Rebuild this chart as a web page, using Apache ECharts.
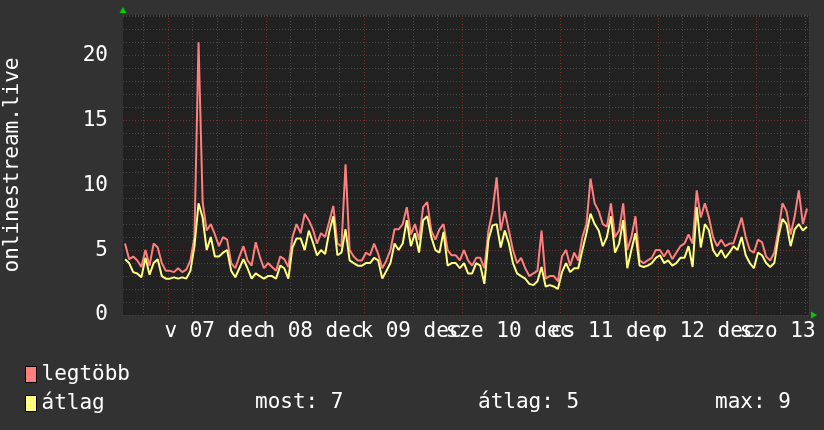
<!DOCTYPE html>
<html>
<head>
<meta charset="utf-8">
<script src="https://cdn.jsdelivr.net/npm/echarts@6/dist/echarts.min.js"></script>
<style>
  html, body { margin: 0; padding: 0; background: #323232; }
  #chart { width: 824px; height: 430px; }
</style>
</head>
<body>
<div id="chart"></div>
<script>
// 7 days of hourly data, first hour = 12-06 13:00
const startHour = 13
const dayLabels = ['v 07 dec', 'h 08 dec', 'k 09 dec', 'sze 10 dec', 'cs 11 dec', 'p 12 dec', 'szo 13 dec']
const yTicks = [0, 5, 10, 15, 20]

// legtöbb (max)
const maxVals = [
  5.5, 4.3, 4.5, 4.2, 3.7, 5.0, 3.8, 5.5, 5.2, 4.0, 3.4, 3.4,
  3.3, 3.6, 3.3, 3.5, 4.2, 6.0, 21.0, 8.7, 6.5, 7.0, 6.2, 5.3,
  6.0, 5.8, 4.0, 3.6, 4.5, 5.3, 4.2, 3.8, 5.6, 4.5, 3.6, 4.0,
  3.7, 3.4, 4.5, 4.3, 3.7, 6.0, 7.0, 6.3, 7.8, 7.3, 6.6, 5.5,
  6.3, 6.0, 7.2, 8.4, 5.5, 5.3, 11.6, 5.0, 4.5, 4.2, 4.2, 4.8,
  4.6, 5.5, 4.7, 3.6, 4.2, 5.0, 6.6, 6.6, 7.0, 8.3, 6.2, 7.0,
  5.8, 8.3, 8.7, 6.5, 5.8, 6.6, 7.0, 5.0, 4.6, 4.6, 4.2, 5.0,
  4.2, 3.8, 4.4, 4.4, 3.6, 6.5, 8.0, 10.6, 6.5, 8.0, 6.5, 5.0,
  4.0, 4.4, 3.6, 3.0, 3.2, 3.4, 6.5, 2.8, 3.0, 3.0, 2.6, 4.5,
  5.0, 3.8, 4.8, 4.2, 6.0, 7.0, 10.5, 8.6, 8.0, 7.0, 6.8, 8.6,
  6.0, 6.5, 8.6, 5.0, 6.0, 7.6, 4.2, 4.0, 4.2, 4.4, 5.0, 5.0,
  4.5, 5.0, 4.3, 4.8, 5.3, 5.5, 6.2, 5.5, 9.6, 7.5, 8.6, 7.5,
  6.0, 5.3, 5.8, 5.3, 5.5, 5.5, 6.5, 7.5, 6.0, 5.0, 4.8, 5.8,
  5.6, 4.5, 4.2, 4.8, 6.5, 8.6, 8.0, 6.2, 7.6, 9.6, 7.0, 8.2
]
// átlag (average)
const avgVals = [
  4.3, 4.0, 3.3, 3.2, 2.9, 4.4, 3.1, 4.0, 4.3, 3.0, 2.8, 2.8,
  2.9, 2.8, 2.9, 2.8, 3.4, 5.3, 8.6, 7.5, 5.0, 6.0, 4.5, 4.5,
  4.8, 5.0, 3.4, 2.9, 3.6, 4.3, 3.6, 2.8, 3.2, 3.0, 2.8, 3.0,
  3.0, 2.8, 3.8, 3.6, 2.8, 5.2, 5.9, 5.9, 5.0, 6.5, 5.6, 4.6,
  5.0, 4.7, 6.4, 7.6, 4.6, 4.8, 6.6, 4.2, 4.0, 3.8, 3.8, 4.0,
  4.0, 4.4, 4.2, 2.8, 3.4, 4.0, 5.5, 5.0, 5.5, 7.3, 5.3, 6.3,
  4.8, 7.3, 7.6, 6.0, 5.0, 4.8, 6.4, 3.8, 4.0, 4.0, 3.6, 4.0,
  3.2, 3.2, 4.0, 3.8, 2.4, 5.8, 6.9, 7.0, 5.2, 6.5, 5.5, 4.0,
  3.2, 3.0, 2.8, 2.4, 2.3, 2.6, 3.7, 2.2, 2.3, 2.2, 2.0, 3.3,
  4.0, 3.3, 3.6, 3.6, 5.0, 6.3, 7.8, 7.0, 6.5, 5.3, 6.0, 7.6,
  4.8, 5.5, 7.3, 3.6, 5.0, 6.3, 3.8, 3.7, 3.8, 4.0, 4.4, 4.6,
  4.0, 4.2, 3.8, 4.0, 4.4, 4.4, 5.3, 3.7, 8.3, 5.2, 7.0, 6.5,
  5.0, 4.5, 5.0, 4.4, 4.8, 5.3, 5.0, 6.0, 4.6, 4.0, 3.6, 4.8,
  4.6, 4.0, 3.7, 4.0, 6.0, 7.4, 7.0, 5.3, 6.6, 7.0, 6.5, 6.8
]
const stats = [['most', 7], ['átlag', 5], ['max', 9]]

// category per hour
const hours = maxVals.map((v, i) => {
  const h = startHour + i
  return `${6 + Math.floor(h / 24)}. ${String(h % 24).padStart(2, '0')}:00`
})
const hourOf = i => (startHour + i) % 24
const dayOf = i => Math.floor((startHour + i) / 24) - 1

const font = 'DejaVu Sans Mono'
const chart = echarts.init(document.getElementById('chart'))

const baseX = {
  type: 'category',
  data: hours,
  boundaryGap: true,
  position: 'bottom',
  axisLine: { show: false },
  axisTick: { show: false },
  axisLabel: { show: false },
  splitLine: { show: false }
}

// napfelirat: a páros és páratlan napok külön tengelyen, hogy átfedhessenek
const dayLabelAxis = parity => ({
  ...baseX,
  axisLabel: {
    show: true,
    interval: (idx) => hourOf(idx) === 12 && dayOf(idx) % 2 === parity,
    formatter: (v, idx) => dayLabels[dayOf(idx)],
    color: '#fff',
    fontFamily: font,
    fontSize: 21,
    margin: 6,
    padding: [0, 8, 0, 0],
    hideOverlap: false
  }
})

const option = {
  backgroundColor: '#323232',
  animation: false,
  grid: {
    left: 123, right: 15, top: 15, bottom: 115,
    containLabel: false,
    outerBoundsMode: 'none',
    show: true, backgroundColor: '#212121', borderWidth: 0
  },
  legend: {
    orient: 'vertical',
    left: 20,
    top: 359,
    icon: 'rect',
    itemWidth: 11,
    itemHeight: 16,
    itemGap: 8,
    selectedMode: false,
    itemStyle: { borderColor: '#000', borderWidth: 1 },
    textStyle: { color: '#fff', fontFamily: font, fontSize: 21, lineHeight: 16 },
    data: ['legtöbb', 'átlag']
  },
  xAxis: [
    {
      // 6 órás rács
      ...baseX,
      axisLine: {
        show: true,
        symbol: ['none', 'triangle'],
        symbolSize: [7, 6],
        symbolOffset: [0, 5],
        lineStyle: { color: '#00cc00', width: 0 }
      },
      splitLine: {
        show: true,
        interval: (idx) => hourOf(idx) % 6 === 0,
        lineStyle: { color: '#4a4a4a', type: [1, 2], width: 1 }
      }
    },
    {
      // napok határa
      ...baseX,
      splitLine: {
        show: true,
        interval: (idx) => hourOf(idx) === 0,
        lineStyle: { color: '#7a2e2e', type: [1, 2], width: 1 }
      }
    },
    dayLabelAxis(0),
    dayLabelAxis(1)
  ],
  yAxis: [
    {
      type: 'value',
      position: 'left',
      min: 0,
      max: 23.1,
      interval: 1,
      z: 0,
      axisLine: {
        show: true,
        symbol: ['none', 'triangle'],
        symbolSize: [7, 6],
        symbolOffset: [0, 5],
        lineStyle: { color: '#00cc00', width: 0 }
      },
      axisTick: { show: false },
      axisLabel: { show: false },
      splitLine: { lineStyle: { color: '#4a4a4a', type: [1, 2], width: 1 } }
    },
    {
      type: 'value',
      position: 'left',
      min: 0,
      max: 23.1,
      interval: 5,
      z: 1,
      name: 'onlinestream.live',
      nameLocation: 'middle',
      nameGap: 100,
      nameTextStyle: { color: '#fff', fontFamily: font, fontSize: 21 },
      axisLine: { show: false },
      axisTick: { show: false },
      axisLabel: {
        color: '#fff',
        fontFamily: font,
        fontSize: 21,
        margin: 15,
        formatter: v => (yTicks.includes(v) ? String(v) : '')
      },
      splitLine: { lineStyle: { color: '#7a2e2e', type: [1, 2], width: 1 } }
    }
  ],
  graphic: stats.map((s, i) => ({
    type: 'text',
    left: [255, 478, 715][i],
    top: 392,
    style: { text: `${s[0]}: ${s[1]}`, fill: '#fff', font: `21px "${font}"` }
  })),
  series: [
    {
      name: 'legtöbb',
      type: 'line',
      data: maxVals,
      showSymbol: false,
      color: '#ff7f7f',
      lineStyle: { width: 2, color: '#ff7f7f' },
      z: 3
    },
    {
      name: 'átlag',
      type: 'line',
      data: avgVals,
      showSymbol: false,
      color: '#ffff80',
      lineStyle: { width: 2, color: '#ffff80' },
      z: 4
    }
  ]
}
chart.setOption(option)
</script>
</body>
</html>
